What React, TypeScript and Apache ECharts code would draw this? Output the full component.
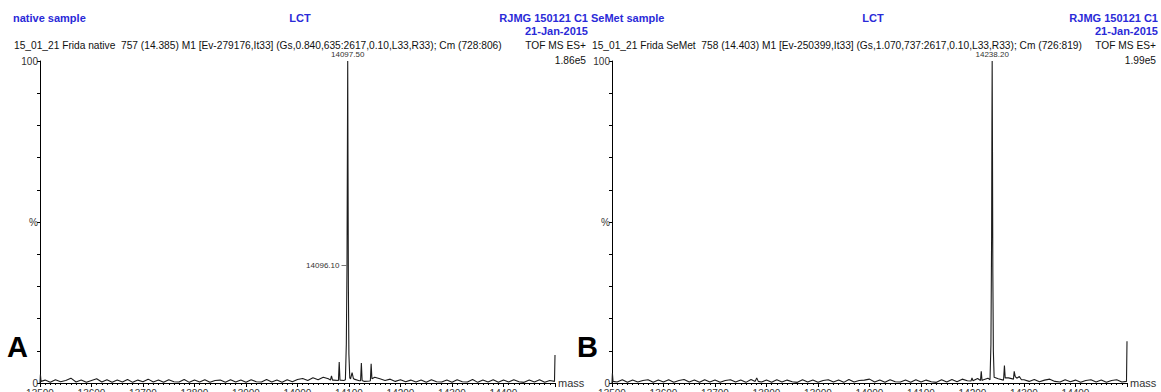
import React, { useEffect, useRef } from "react";
import * as echarts from "echarts";

// Deconvoluted (MaxEnt) mass spectra: native vs SeMet protein
const MASS_MIN = 13500;
const MASS_MAX = 14500;
const MASS_STEP = 100;
const BASELINE_STEP = 10;

// Baseline intensity (%) every 10 Da from 13500 to 14500
const baselineNative = [
  0.4, 0.9, 0.2, 1.0, 0.4, 0.8, 1.5, 0.3, 0.9, 0.2,
  0.8, 1.3, 0.3, 1.0, 0.2, 0.9, 0.3, 1.1, 0.2, 0.9,
  0.4, 1.2, 0.3, 0.9, 0.2, 1.0, 0.4, 0.3, 1.1, 0.2,
  0.9, 0.3, 1.0, 0.2, 0.8, 0.9, 0.2, 1.0, 0.3, 0.9,
  0.2, 1.0, 0.4, 0.3, 1.1, 0.3, 0.9, 0.2, 1.0, 0.4,
  1.1, 1.4, 0.8, 1.6, 1.0, 1.8, 1.3, 0.9, 0.8, 0.8,
  0.9, 1.2, 0.7, 0.5, 0.6, 1.8, 1.3, 0.8, 1.2, 0.5,
  1.0, 0.4, 0.9, 0.3, 0.9, 0.2, 1.0, 0.4, 0.3, 0.9,
  0.2, 1.0, 0.4, 0.3, 1.1, 0.2, 0.9, 0.3, 1.0, 0.2,
  0.9, 0.3, 1.0, 0.4, 0.2, 0.9, 0.3, 1.0, 0.2, 0.8,
  0.5,
];

const baselineSeMet = [
  0.5, 0.3, 1.0, 0.2, 0.9, 0.3, 0.8, 1.0, 0.2, 0.9,
  0.3, 1.0, 0.2, 0.8, 1.1, 0.3, 0.9, 0.2, 1.0, 0.3,
  0.9, 0.2, 0.8, 1.0, 0.3, 0.9, 0.2, 1.1, 0.4, 0.3,
  0.9, 0.2, 1.0, 0.3, 0.9, 0.4, 0.2, 1.0, 0.3, 0.9,
  0.2, 0.8, 1.0, 0.3, 0.9, 0.2, 1.1, 0.3, 0.8, 0.9,
  1.2, 0.3, 0.9, 0.2, 1.0, 0.4, 0.3, 0.9, 0.2, 1.0,
  0.3, 0.9, 0.4, 0.2, 1.0, 0.3, 1.1, 0.4, 1.2, 0.7,
  1.2, 1.4, 0.9, 1.5, 1.0, 1.3, 0.9, 1.6, 1.1, 0.9,
  1.0, 0.5, 1.1, 0.4, 0.9, 1.2, 0.5, 0.3, 1.0, 0.4,
  0.9, 0.2, 0.8, 1.0, 0.3, 0.9, 0.2, 0.8, 1.0, 0.3,
  0.5,
];

// Peak clusters [mass, intensity %]
const peaksNative: [number, number][][] = [
  [[13500, 0], [13500.8, 2.6], [13502, 0.5]],
  [[14064, 0.9], [14066, 2.2], [14068, 0.9]],
  [[14079.5, 0.8], [14081, 6.5], [14082.5, 0.9]],
  [
    [14093, 1.0], [14094.8, 12], [14096.1, 36.5], [14096.8, 68], [14097.5, 100],
    [14098.1, 66], [14098.8, 30], [14099.8, 9], [14101.5, 1.6],
  ],
  [[14103, 1.3], [14106, 3.2], [14108.5, 1.4]],
  [[14122.5, 0.7], [14124, 6.2], [14125.5, 0.8]],
  [[14141.5, 0.7], [14143, 6.0], [14144.5, 1.3]],
  [[14499, 0.5], [14500, 8.7]],
];

const peaksSeMet: [number, number][][] = [
  [[13500, 0], [13500.8, 3.0], [13502, 0.5]],
  [[13778, 0.5], [13781, 1.6], [13784, 0.5]],
  [[14197, 0.6], [14199, 1.6], [14201, 0.7]],
  [[14215.5, 0.8], [14217, 3.6], [14218.5, 0.8]],
  [
    [14234, 1.0], [14235.8, 12], [14237.1, 45], [14237.7, 80], [14238.2, 100],
    [14238.8, 72], [14239.5, 34], [14240.5, 10], [14242, 1.8],
  ],
  [[14260.5, 1.4], [14262, 5.4], [14263.5, 1.6]],
  [[14279.5, 1.2], [14281, 3.6], [14283, 2.0], [14286, 1.5], [14291, 2.0], [14295, 1.0]],
  [[14499, 0.5], [14500, 13]],
];

// Labelled peaks [mass, intensity %]
const labelsNative: [number, number][] = [[14097.5, 100], [14096.1, 36.5]];
const labelsSeMet: [number, number][] = [[14238.2, 100]];

const massTicks = [13500, 13600, 13700, 13800, 13900, 14000, 14100, 14200, 14300, 14400];

const headerNative = {
  sample: "native sample",
  run: "15_01_21 Frida native  757 (14.385) M1 [Ev-279176,It33] (Gs,0.840,635:2617,0.10,L33,R33); Cm (728:806)",
  scale: "1.86e5",
};
const headerSeMet = {
  sample: "SeMet sample",
  run: "15_01_21 Frida SeMet  758 (14.403) M1 [Ev-250399,It33] (Gs,1.070,737:2617,0.10,L33,R33); Cm (726:819)",
  scale: "1.99e5",
};

function buildSpectrum(baseline: number[], clusters: [number, number][][]) {
  const spans = clusters.map((c) => [c[0][0], c[c.length - 1][0]]);
  const pts: [number, number][] = [];
  baseline.forEach((v, i) => {
    const m = MASS_MIN + i * BASELINE_STEP;
    if (!spans.some(([a, b]) => m >= a && m <= b)) pts.push([m, v]);
  });
  clusters.forEach((c) => c.forEach((p) => pts.push(p)));
  pts.sort((a, b) => a[0] - b[0]);
  return pts;
}

const FONT = "Arial, 'Liberation Sans', sans-serif";
const BLUE = "#2a2ad8";

function header(h: typeof headerNative, x0: number, x1: number, lct: number) {
  return [
    { type: "text", x: x0, y: 18, style: { text: h.sample, font: `bold 11px ${FONT}`, fill: BLUE, textVerticalAlign: "middle" } },
    { type: "text", x: lct, y: 18, style: { text: "LCT", font: `bold 11px ${FONT}`, fill: BLUE, textAlign: "center", textVerticalAlign: "middle" } },
    { type: "text", x: x1, y: 18, style: { text: "RJMG 150121 C1", font: `bold 11px ${FONT}`, fill: BLUE, textAlign: "right", textVerticalAlign: "middle" } },
    { type: "text", x: x1, y: 31, style: { text: "21-Jan-2015", font: `bold 11px ${FONT}`, fill: BLUE, textAlign: "right", textVerticalAlign: "middle" } },
    { type: "text", x: x0 + 1, y: 45, style: { text: h.run, font: `10.2px ${FONT}`, fill: "#111", textVerticalAlign: "middle" } },
    { type: "text", x: x1 - 2, y: 45, style: { text: "TOF MS ES+", font: `10.2px ${FONT}`, fill: "#111", textAlign: "right", textVerticalAlign: "middle" } },
    { type: "text", x: x1 - 2, y: 60, style: { text: h.scale, font: `10.2px ${FONT}`, fill: "#111", textAlign: "right", textVerticalAlign: "middle" } },
  ];
}

function axesFor(gridIndex: number) {
  const xAxis = {
    type: "value",
    gridIndex,
    min: MASS_MIN,
    max: MASS_MAX,
    interval: MASS_STEP,
    name: "mass",
    nameLocation: "end",
    nameGap: 3,
    nameTextStyle: { fontSize: 11, color: "#333", fontFamily: FONT, verticalAlign: "middle" },
    axisLine: { lineStyle: { color: "#000", width: 1 } },
    axisTick: { length: 4, lineStyle: { color: "#000" } },
    minorTick: { show: true, splitNumber: 10, length: 2, lineStyle: { color: "#000" } },
    splitLine: { show: false },
    axisLabel: {
      fontSize: 10,
      color: "#333",
      fontFamily: FONT,
      margin: 5,
      formatter: (v: number) => (massTicks.includes(v) ? String(v) : ""),
    },
  };
  const yAxis = {
    type: "value",
    gridIndex,
    min: 0,
    max: 100,
    interval: 10,
    axisLine: { show: true, lineStyle: { color: "#000", width: 1 } },
    axisTick: { show: true, length: 3, lineStyle: { color: "#000" } },
    splitLine: { show: false },
    axisLabel: {
      fontSize: 10,
      color: "#333",
      fontFamily: FONT,
      margin: 2,
      formatter: (v: number) => (v === 100 ? "100" : v === 50 ? "%" : v === 0 ? "0" : ""),
    },
  };
  return { xAxis, yAxis };
}

function spectrumSeries(idx: number, data: [number, number][], labels: [number, number][]) {
  return {
    type: "line",
    xAxisIndex: idx,
    yAxisIndex: idx,
    data,
    showSymbol: false,
    symbol: "none",
    clip: false,
    lineStyle: { color: "#1c1c1c", width: 1.1 },
    silent: true,
    markPoint: {
      silent: true,
      data: labels.map(([m, v]) => {
        const top = v >= 100;
        return {
          coord: [m, v],
          symbol: "rect",
          symbolSize: top ? [1, 1] : [5, 0.8],
          symbolOffset: top ? [0, 0] : [-3, 0],
          itemStyle: { color: top ? "rgba(0,0,0,0)" : "#555" },
          label: {
            show: true,
            position: top ? "top" : "left",
            distance: 2,
            formatter: () => m.toFixed(2),
            fontSize: 8,
            color: "#333",
            fontFamily: FONT,
          },
        };
      }),
    },
  };
}

export default function App() {
  const ref = useRef<HTMLDivElement>(null);

  useEffect(() => {
    if (!ref.current) return;
    const chart = echarts.init(ref.current, undefined, { renderer: "svg" });
    const a = axesFor(0);
    const b = axesFor(1);
    chart.setOption({
      animation: false,
      backgroundColor: "#fff",
      grid: [
        { left: 40, top: 61, width: 515, height: 322 },
        { left: 612, top: 61, width: 515, height: 322 },
      ],
      xAxis: [a.xAxis, b.xAxis],
      yAxis: [a.yAxis, b.yAxis],
      series: [
        spectrumSeries(0, buildSpectrum(baselineNative, peaksNative), labelsNative),
        spectrumSeries(1, buildSpectrum(baselineSeMet, peaksSeMet), labelsSeMet),
      ],
      graphic: [
        ...header(headerNative, 13, 588, 300),
        ...header(headerSeMet, 591, 1158, 873),
        { type: "text", x: 7, y: 347, style: { text: "A", font: `bold 29px ${FONT}`, fill: "#000", textVerticalAlign: "middle" } },
        { type: "text", x: 577, y: 347, style: { text: "B", font: `bold 29px ${FONT}`, fill: "#000", textVerticalAlign: "middle" } },
      ],
    });
    return () => chart.dispose();
  }, []);

  return (
    <div
      ref={ref}
      style={{ position: "fixed", left: 0, top: 0, width: 1161, height: 400, background: "#fff" }}
    />
  );
}
